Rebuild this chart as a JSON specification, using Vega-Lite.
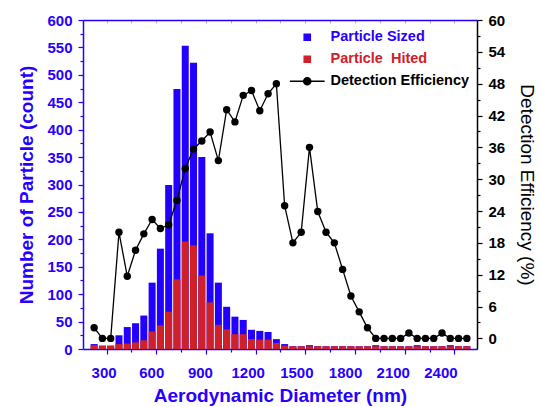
{
  "$schema": "https://vega.github.io/schema/vega-lite/v6.json",
  "width": 394,
  "height": 329,
  "autosize": {"type": "none"},
  "padding": {"left": 83, "top": 20, "right": 63, "bottom": 58},
  "background": "white",
  "config": {
    "view": {"stroke": null},
    "font": "Liberation Sans",
    "axis": {"grid": false, "labelFont": "Liberation Sans", "titleFont": "Liberation Sans", "labelFlush": false, "labelOverlap": false}
  },
  "data": {
    "values": [
      {"d": 225, "sized": 9, "hit": 7, "eff": 2.0},
      {"d": 275, "sized": 6, "hit": 6, "eff": 0},
      {"d": 325, "sized": 6, "hit": 6, "eff": 0},
      {"d": 375, "sized": 25, "hit": 9, "eff": 20.0},
      {"d": 425, "sized": 40, "hit": 10, "eff": 11.7},
      {"d": 475, "sized": 47, "hit": 12, "eff": 16.6},
      {"d": 525, "sized": 61, "hit": 16, "eff": 19.7},
      {"d": 575, "sized": 121, "hit": 32, "eff": 22.4},
      {"d": 625, "sized": 183, "hit": 43, "eff": 20.7},
      {"d": 675, "sized": 299, "hit": 68, "eff": 21.4},
      {"d": 725, "sized": 474, "hit": 127, "eff": 26.0},
      {"d": 775, "sized": 553, "hit": 196, "eff": 32.0},
      {"d": 825, "sized": 522, "hit": 189, "eff": 35.7},
      {"d": 875, "sized": 350, "hit": 134, "eff": 37.2},
      {"d": 925, "sized": 211, "hit": 85, "eff": 38.9},
      {"d": 975, "sized": 121, "hit": 44, "eff": 33.5},
      {"d": 1025, "sized": 77, "hit": 36, "eff": 43.1},
      {"d": 1075, "sized": 59, "hit": 27, "eff": 40.8},
      {"d": 1125, "sized": 53, "hit": 27, "eff": 45.8},
      {"d": 1175, "sized": 35, "hit": 18, "eff": 46.7},
      {"d": 1225, "sized": 33, "hit": 17, "eff": 42.9},
      {"d": 1275, "sized": 31, "hit": 17, "eff": 46.1},
      {"d": 1325, "sized": 18, "hit": 11, "eff": 48.0},
      {"d": 1375, "sized": 9, "hit": 6, "eff": 25.0},
      {"d": 1425, "sized": 5, "hit": 5, "eff": 18.0},
      {"d": 1475, "sized": 5, "hit": 5, "eff": 20.0},
      {"d": 1525, "sized": 7, "hit": 5, "eff": 36.0},
      {"d": 1575, "sized": 5, "hit": 5, "eff": 23.9},
      {"d": 1625, "sized": 5, "hit": 5, "eff": 20.0},
      {"d": 1675, "sized": 5, "hit": 5, "eff": 18.0},
      {"d": 1725, "sized": 5, "hit": 5, "eff": 13.0},
      {"d": 1775, "sized": 5, "hit": 5, "eff": 8.0},
      {"d": 1825, "sized": 5, "hit": 5, "eff": 5.0},
      {"d": 1875, "sized": 5, "hit": 5, "eff": 2.0},
      {"d": 1925, "sized": 7, "hit": 5, "eff": 0},
      {"d": 1975, "sized": 5, "hit": 5, "eff": 0},
      {"d": 2025, "sized": 5, "hit": 5, "eff": 0},
      {"d": 2075, "sized": 5, "hit": 5, "eff": 0},
      {"d": 2125, "sized": 5, "hit": 5, "eff": 1.0},
      {"d": 2175, "sized": 7, "hit": 5, "eff": 0},
      {"d": 2225, "sized": 5, "hit": 5, "eff": 0},
      {"d": 2275, "sized": 5, "hit": 5, "eff": 0},
      {"d": 2325, "sized": 5, "hit": 5, "eff": 1.0},
      {"d": 2375, "sized": 7, "hit": 5, "eff": 0},
      {"d": 2425, "sized": 5, "hit": 5, "eff": 0},
      {"d": 2475, "sized": 5, "hit": 5, "eff": 0}
    ]
  },
  "layer": [
    {
      "encoding": {
        "x": {
          "field": "d", "type": "quantitative",
          "scale": {"domain": [188, 2506], "nice": false, "zero": false},
          "axis": {
            "orient": "bottom",
            "values": [300, 450, 600, 750, 900, 1050, 1200, 1350, 1500, 1650, 1800, 1950, 2100, 2250, 2400],
            "format": "d",
            "labelExpr": "datum.value % 300 === 0 ? datum.label : ''",
            "labelOffset": {
              "condition": [
                {"test": "datum.value >= 2250", "value": -14},
                {"test": "datum.value >= 1950", "value": -12},
                {"test": "datum.value >= 1650", "value": -10},
                {"test": "datum.value >= 1350", "value": -9},
                {"test": "datum.value >= 1050", "value": -8},
                {"test": "datum.value >= 750", "value": -6},
                {"test": "datum.value >= 450", "value": -5}
              ],
              "value": -3
            },
            "tickSize": {"condition": {"test": "datum.value % 300 === 0", "value": 5}, "value": 3},
            "tickColor": "#2200ff", "tickWidth": 1.2,
            "domainColor": "#2200ff", "domainWidth": 1.5,
            "labelColor": "#2800ff", "labelFontSize": 15, "labelFontWeight": "bold", "labelPadding": 11,
            "title": "Aerodynamic Diameter (nm)",
            "titleColor": "#2800ff", "titleFontSize": 19, "titleFontWeight": "bold", "titlePadding": 6
          }
        }
      },
      "layer": [
        {
          "mark": {"type": "bar", "width": 7},
          "encoding": {
            "y": {
              "field": "sized", "type": "quantitative",
              "scale": {"domain": [0, 600], "nice": false},
              "axis": {
                "orient": "left",
                "values": [0, 25, 50, 75, 100, 125, 150, 175, 200, 225, 250, 275, 300, 325, 350, 375, 400, 425, 450, 475, 500, 525, 550, 575, 600],
                "labelExpr": "datum.value % 50 === 0 ? datum.label : ''",
                "tickSize": {"condition": {"test": "datum.value % 50 === 0", "value": 5}, "value": 3},
                "tickColor": "#2200ff", "tickWidth": 1.2,
                "domainColor": "#2200ff", "domainWidth": 1.5,
                "labelColor": "#2800ff", "labelFontSize": 15, "labelFontWeight": "bold", "labelPadding": 6,
                "title": "Number of Particle (count)",
                "titleColor": "#2800ff", "titleFontSize": 19, "titleFontWeight": "bold", "titlePadding": 10
              }
            },
            "color": {
              "datum": "Particle Sized",
              "scale": {
                "domain": ["Particle Sized", "Particle\u00a0 Hited", "Detection Efficiency"],
                "range": ["#2200ff", "#d0202a", "#000000"]
              },
              "legend": {
                "orient": "none", "legendX": 217, "legendY": 10,
                "title": null, "padding": 0,
                "symbolSize": 40, "symbolType": "square",
                "labelFont": "Liberation Sans", "labelFontSize": 14.5, "labelFontWeight": "bold",
                "labelOffset": 16, "rowPadding": 7,
                "encode": {
                  "symbols": {
                    "update": {
                      "shape": {"signal": "datum.value === 'Detection Efficiency' ? 'M-5.5,0H5.5M-1.15,0a1.15,1.15 0 1,0 2.3,0a1.15,1.15 0 1,0 -2.3,0' : 'square'"},
                      "fill": {"signal": "datum.value === 'Particle Sized' ? '#2200ff' : datum.value === 'Detection Efficiency' ? '#000000' : '#d0202a'"},
                      "stroke": {"signal": "datum.value === 'Detection Efficiency' ? '#000000' : 'transparent'"},
                      "strokeWidth": {"value": 1.3},
                      "opacity": {"value": 1},
                      "fillOpacity": {"value": 1},
                      "size": {"value": 40}
                    }
                  },
                  "labels": {
                    "update": {
                      "fill": {"signal": "datum.value === 'Particle Sized' ? '#2800ff' : datum.value === 'Detection Efficiency' ? '#000000' : '#d0202a'"}
                    }
                  }
                }
              }
            }
          }
        },
        {
          "mark": {"type": "bar", "width": 7},
          "encoding": {
            "y": {
              "field": "hit", "type": "quantitative",
              "scale": {"domain": [0, 600], "nice": false},
              "axis": {
                "orient": "left",
                "values": [0, 25, 50, 75, 100, 125, 150, 175, 200, 225, 250, 275, 300, 325, 350, 375, 400, 425, 450, 475, 500, 525, 550, 575, 600],
                "labelExpr": "datum.value % 50 === 0 ? datum.label : ''",
                "tickSize": {"condition": {"test": "datum.value % 50 === 0", "value": 5}, "value": 3},
                "tickColor": "#2200ff", "tickWidth": 1.2,
                "domainColor": "#2200ff", "domainWidth": 1.5,
                "labelColor": "#2800ff", "labelFontSize": 15, "labelFontWeight": "bold", "labelPadding": 6,
                "title": "Number of Particle (count)",
                "titleColor": "#2800ff", "titleFontSize": 19, "titleFontWeight": "bold", "titlePadding": 10
              }
            },
            "color": {"datum": "Particle\u00a0 Hited"}
          }
        }
      ]
    },
    {
      "encoding": {
        "x": {
          "field": "d", "type": "quantitative",
          "scale": {"domain": [188, 2506], "nice": false, "zero": false},
          "axis": {
            "orient": "top",
            "values": [300, 450, 600, 750, 900, 1050, 1200, 1350, 1500, 1650, 1800, 1950, 2100, 2250, 2400],
            "labels": false, "title": null,
            "tickSize": -3, "tickColor": "#b0a8ff", "tickWidth": 1,
            "domainColor": "#2200ff", "domainWidth": 1.5
          }
        },
        "y": {
          "field": "eff", "type": "quantitative",
          "scale": {"domain": [-2, 60], "nice": false, "zero": false},
          "axis": {
            "orient": "right",
            "values": [0, 3, 6, 9, 12, 15, 18, 21, 24, 27, 30, 33, 36, 39, 42, 45, 48, 51, 54, 57, 60],
            "labelExpr": "datum.value % 6 === 0 ? datum.label : ''",
            "tickSize": {"condition": {"test": "datum.value % 6 === 0", "value": 5}, "value": 3},
            "tickColor": "#000000", "tickWidth": 1.2,
            "domainColor": "#000000", "domainWidth": 1.5,
            "labelColor": "#000000", "labelFontSize": 15, "labelFontWeight": "bold", "labelPadding": 6,
            "title": "Detection Efficiency (%)",
            "titleColor": "#000000", "titleFontSize": 19, "titleFontWeight": "normal", "titlePadding": 12
          }
        },
        "color": {"datum": "Detection Efficiency"}
      },
      "layer": [
        {"mark": {"type": "line", "strokeWidth": 1.3}},
        {"mark": {"type": "point", "filled": true, "size": 55, "opacity": 1}}
      ]
    }
  ],
  "resolve": {"scale": {"y": "independent"}, "axis": {"x": "independent"}}
}
